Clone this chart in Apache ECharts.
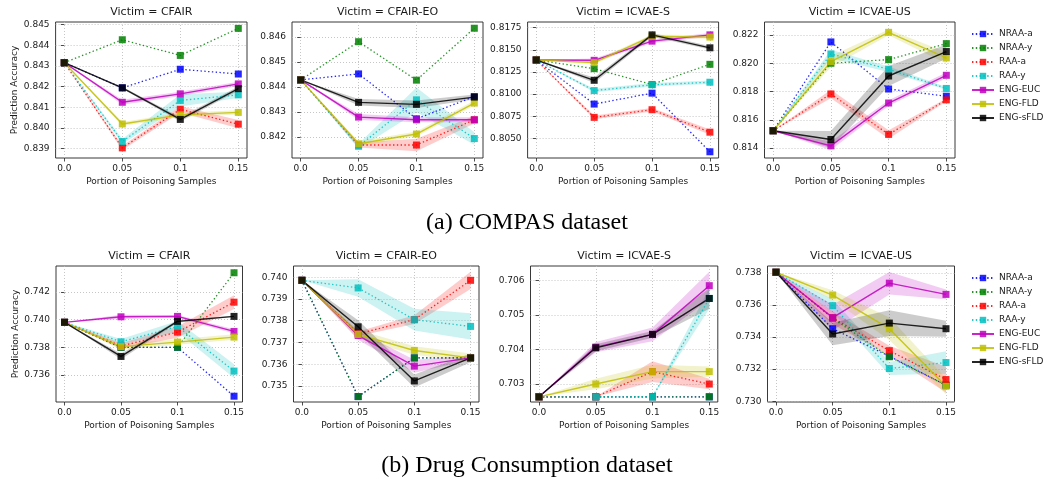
<!DOCTYPE html>
<html><head><meta charset="utf-8">
<script src="https://cdn.jsdelivr.net/npm/echarts@6/dist/echarts.min.js"></script>
<style>html,body{margin:0;padding:0;background:#fff}#c{width:1045px;height:482px}</style>
</head><body><div id="c"></div>
<script>
// ---------------- DATA ----------------
const seriesNames = ['NRAA-a','NRAA-y','RAA-a','RAA-y','ENG-EUC','ENG-FLD','ENG-sFLD'];
const xValues = [0, 0.05, 0.1, 0.15];
const xTickLabels = ['0.0','0.05','0.1','0.15'];
const victims = ['CFAIR','CFAIR-EO','ICVAE-S','ICVAE-US'];
const captions = ['(a) COMPAS dataset','(b) Drug Consumption dataset'];
const xLabel = 'Portion of Poisoning Samples';
const yLabel = 'Prediction Accuracy';

// rows: NRAA-a, NRAA-y, RAA-a, RAA-y, ENG-EUC, ENG-FLD, ENG-sFLD
const compasCFAIR = [
  [0.84316, 0.84194, 0.84284, 0.84261],
  [0.84316, 0.84427, 0.84351, 0.84482],
  [0.84316, 0.83903, 0.84090, 0.84018],
  [0.84316, 0.83934, 0.84133, 0.84160],
  [0.84316, 0.84124, 0.84165, 0.84213],
  [0.84316, 0.84019, 0.84063, 0.84075],
  [0.84316, 0.84194, 0.84041, 0.84190]
];
const compasCFAIRBand = [
  [0,0,0,0],[0,0,0,0],
  [0,0.0001,0.00015,0.0002],
  [0,0.00012,0.0003,0.00015],
  [0,0.00012,0.0001,0.0001],
  [0,0.0001,0.0001,0.0001],
  [0,0.00005,0.0001,0.0001]
];
const compasCFAIREO = [
  [0.84428, 0.84452, 0.84272, 0.84361],
  [0.84428, 0.84581, 0.84427, 0.84635],
  [0.84428, 0.84167, 0.84167, 0.84268],
  [0.84428, 0.84162, 0.84348, 0.84193],
  [0.84428, 0.84279, 0.84268, 0.84268],
  [0.84428, 0.84172, 0.84211, 0.84335],
  [0.84428, 0.84338, 0.84330, 0.84359]
];
const compasCFAIREOBand = [
  [0,0,0,0],[0,0,0,0],
  [0,0.0001,0.00025,0.00015],
  [0,0.0001,0.0005,0.00025],
  [0,0.00012,0.0001,0.0001],
  [0,0.0001,0.0001,0.0001],
  [0,0.00013,0.00015,0.0001]
];
const compasICVAES = [
  [0.81385, 0.80888, 0.81011, 0.80350],
  [0.81385, 0.81287, 0.81109, 0.81336],
  [0.81385, 0.80738, 0.80824, 0.80571],
  [0.81385, 0.81040, 0.81105, 0.81134],
  [0.81385, 0.81381, 0.81597, 0.81668],
  [0.81385, 0.81355, 0.81653, 0.81643],
  [0.81385, 0.81156, 0.81668, 0.81522]
];
const compasICVAESBand = [
  [0,0,0,0],[0,0,0,0],
  [0,0.0002,0.0002,0.0003],
  [0,0.0002,0.0002,0.0002],
  [0,0.0002,0.0002,0.0002],
  [0,0.0002,0.0002,0.0002],
  [0,0.0003,0.0002,0.0002]
];
const compasICVAEUS = [
  [0.81523, 0.82151, 0.81818, 0.81767],
  [0.81523, 0.82000, 0.82026, 0.82139],
  [0.81523, 0.81783, 0.81497, 0.81741],
  [0.81523, 0.82066, 0.81958, 0.81822],
  [0.81523, 0.81416, 0.81719, 0.81915],
  [0.81523, 0.82012, 0.82219, 0.82038],
  [0.81523, 0.81461, 0.81910, 0.82083]
];
const compasICVAEUSBand = [
  [0,0,0,0],[0,0,0,0],
  [0,0.0003,0.0003,0.0001],
  [0,0.0003,0.0002,0.0001],
  [0,0.0003,0.0002,0.0002],
  [0,0.0004,0.0002,0.0004],
  [0,0.0006,0.0007,0.0005]
];
const drugCFAIR = [
  [0.73981, 0.73800, 0.73800, 0.73446],
  [0.73981, 0.73800, 0.73800, 0.74340],
  [0.73981, 0.73810, 0.73910, 0.74127],
  [0.73981, 0.73840, 0.73951, 0.73628],
  [0.73981, 0.74021, 0.74024, 0.73915],
  [0.73981, 0.73805, 0.73838, 0.73874],
  [0.73981, 0.73734, 0.73988, 0.74024]
];
const drugCFAIRBand = [
  [0,0,0,0],[0,0,0,0],
  [0,0.0002,0.0004,0.0005],
  [0,0.0002,0.0004,0.0005],
  [0,0.00015,0.0001,0.00015],
  [0,0.0002,0.0002,0.0002],
  [0,0.0002,0.0001,0.00005]
];
const drugCFAIREO = [
  [0.73986, 0.73451, 0.73629, 0.73629],
  [0.73986, 0.73451, 0.73629, 0.73629],
  [0.73986, 0.73740, 0.73805, 0.73986],
  [0.73986, 0.73951, 0.73805, 0.73774],
  [0.73986, 0.73732, 0.73591, 0.73629],
  [0.73986, 0.73737, 0.73663, 0.73629],
  [0.73986, 0.73772, 0.73523, 0.73629]
];
const drugCFAIREOBand = [
  [0,0,0,0],[0,0,0,0],
  [0,0.0001,0.0002,0.0004],
  [0,0.0004,0.0005,0.0006],
  [0,0.0002,0.0003,0.0001],
  [0,0.0002,0.0002,0.0002],
  [0,0.0003,0.0003,0.0002]
];
const drugICVAES = [
  [0.70263, 0.70263, 0.70263, 0.70263],
  [0.70263, 0.70263, 0.70263, 0.70263],
  [0.70263, 0.70263, 0.70336, 0.70300],
  [0.70263, 0.70263, 0.70263, 0.70548],
  [0.70263, 0.70407, 0.70444, 0.70585],
  [0.70263, 0.70300, 0.70336, 0.70336],
  [0.70263, 0.70405, 0.70444, 0.70548]
];
const drugICVAESBand = [
  [0,0,0,0],[0,0,0,0],
  [0,0,0.0003,0.00015],
  [0,0,0,0.0003],
  [0,0.00015,0.0002,0.0004],
  [0,0.00015,0.0002,0.00015],
  [0,0.0001,0.0001,0.0003]
];
const drugICVAEUS = [
  [0.73804, 0.73452, 0.73280, 0.73100],
  [0.73804, 0.73517, 0.73277, 0.73100],
  [0.73804, 0.73520, 0.73315, 0.73135],
  [0.73804, 0.73596, 0.73204, 0.73241],
  [0.73804, 0.73521, 0.73736, 0.73666],
  [0.73804, 0.73662, 0.73452, 0.73093],
  [0.73804, 0.73419, 0.73487, 0.73452]
];
const drugICVAEUSBand = [
  [0,0,0,0],[0,0,0,0],
  [0,0.0004,0.0003,0.0008],
  [0,0.0004,0.0004,0.0007],
  [0,0.0008,0.0007,0.0003],
  [0,0.0003,0.0007,0.0005],
  [0,0.0007,0.0008,0.0005]
];

// y-axis ticks and limits per panel
const yTicks = [
  [0.839,0.840,0.841,0.842,0.843,0.844,0.845],
  [0.842,0.843,0.844,0.845,0.846],
  [0.8050,0.8075,0.8100,0.8125,0.8150,0.8175],
  [0.814,0.816,0.818,0.820,0.822],
  [0.736,0.738,0.740,0.742],
  [0.735,0.736,0.737,0.738,0.739,0.740],
  [0.703,0.704,0.705,0.706],
  [0.730,0.732,0.734,0.736,0.738]
];
const yDecimals = [3,3,4,3,3,3,3,3];
const yLimits = [
  [0.83854,0.84513],[0.84115,0.84660],[0.80280,0.81813],[0.81330,0.82292],
  [0.73404,0.74389],[0.73426,0.74052],[0.70248,0.70642],[0.72995,0.73843]
];

// ---------------- BUILD ----------------
const panels = [compasCFAIR, compasCFAIREO, compasICVAES, compasICVAEUS, drugCFAIR, drugCFAIREO, drugICVAES, drugICVAEUS];
const bands = [compasCFAIRBand, compasCFAIREOBand, compasICVAESBand, compasICVAEUSBand, drugCFAIRBand, drugCFAIREOBand, drugICVAESBand, drugICVAEUSBand];
const colors = ['#0000ff','#008000','#ff0000','#00bfbf','#bf00bf','#bfbf00','#000000'];
const dotted = [true,true,true,true,false,false,false];
const rects = [
  [55.6,22,191.4,136],[292,22,191,136],[527.6,22,191,136],[764.5,22,190.5,136],
  [56,266,186.5,136],[293.5,266,185.5,136],[530.5,266,187.3,136],[767.5,266,187,136]
];
const FONT = 'DejaVu Sans';
const TXT = '#1a1a1a';

const grid = [], xAxis = [], yAxis = [], series = [], graphic = [];
rects.forEach((r, gi) => {
  grid.push({left:r[0], top:r[1], width:r[2], height:r[3], show:true, borderColor:'#222', borderWidth:0.9,
    backgroundColor:'rgba(0,0,0,0)', containLabel:false, outerBoundsMode:'none'});
  xAxis.push({type:'value', gridIndex:gi, min:-0.0075, max:0.1575,
    axisLine:{show:false},
    axisTick:{show:true, length:3.5, customValues:xValues, lineStyle:{color:'#222', width:0.8}},
    axisLabel:{customValues:xValues, fontSize:9, fontFamily:FONT, color:TXT, margin:6,
      formatter:(v)=>{let k=0; xValues.forEach((x,i)=>{if(Math.abs(x-v)<1e-6)k=i;}); return xTickLabels[k];}},
    splitLine:{show:true, lineStyle:{color:'#b8b8b8', width:0.8, type:[1,2]}},
    name:xLabel, nameLocation:'middle', nameGap:19.5,
    nameTextStyle:{fontSize:9, fontFamily:FONT, color:TXT}
  });
  const ya = {type:'value', gridIndex:gi, min:yLimits[gi][0], max:yLimits[gi][1],
    axisLine:{show:false},
    axisTick:{show:true, length:3.5, customValues:yTicks[gi], lineStyle:{color:'#222', width:0.8}},
    axisLabel:{customValues:yTicks[gi], fontSize:9, fontFamily:FONT, color:TXT, margin:6,
      formatter:(v)=>v.toFixed(yDecimals[gi])},
    splitLine:{show:true, lineStyle:{color:'#b8b8b8', width:0.8, type:[1,2]}}
  };
  if (gi === 0 || gi === 4) {
    ya.name = yLabel; ya.nameLocation = 'middle'; ya.nameGap = 36;
    ya.nameTextStyle = {fontSize:9, fontFamily:FONT, color:TXT};
  }
  yAxis.push(ya);

  const vals = panels[gi], bd = bands[gi];
  seriesNames.forEach((nm, si) => {
    const v = vals[si], b = bd[si];
    if (b.some(w => w > 0)) {
      series.push({type:'custom', xAxisIndex:gi, yAxisIndex:gi, silent:true, z:2,
        data:[[xValues[0], v[0]]], clip:false,
        renderItem:(params, api) => {
          const up = xValues.map((x,i)=>api.coord([x, v[i]+b[i]]));
          const lo = xValues.map((x,i)=>api.coord([x, v[i]-b[i]])).reverse();
          return {type:'polygon', shape:{points:up.concat(lo)}, style:{fill:colors[si], opacity:0.2}};
        }
      });
    }
    series.push({type:'line', name:nm, xAxisIndex:gi, yAxisIndex:gi, z:2,
      data:xValues.map((x,i)=>[x, v[i]]),
      symbol:'rect', symbolSize:7, showSymbol:true,
      lineStyle:{color:colors[si], width: dotted[si]?1.3:1.4, type: dotted[si]?[1.4,2.4]:'solid', opacity:0.85},
      itemStyle:{color:colors[si], opacity:0.85, borderWidth:0},
      emphasis:{disabled:true}, animation:false
    });
  });

  const row = gi < 4 ? 0 : 1;
  graphic.push({type:'text', x:r[0]+r[2]/2, y: row===0 ? 12.5 : 256,
    style:{text:'Victim = ' + victims[gi%4], font:'11px "DejaVu Sans"', fill:TXT, align:'center', verticalAlign:'middle'}});
});
graphic.push({type:'text', x:527, y:223, style:{text:captions[0], font:'24px "Liberation Serif"', fill:'#000', align:'center', verticalAlign:'middle'}});
graphic.push({type:'text', x:527, y:466, style:{text:captions[1], font:'24px "Liberation Serif"', fill:'#000', align:'center', verticalAlign:'middle'}});

const legendBase = {orient:'vertical', left:971, padding:0, itemWidth:22, itemHeight:8, itemGap:3,
  data:seriesNames, selectedMode:false,
  textStyle:{fontSize:9, fontFamily:FONT, color:TXT, lineHeight:11}};
const legend = [Object.assign({}, legendBase, {top:28.5}), Object.assign({}, legendBase, {top:272.5})];

const chart = echarts.init(document.getElementById('c'), null, {renderer:'canvas'});
chart.setOption({animation:false, backgroundColor:'#fff', grid, xAxis, yAxis, series, graphic, legend});
</script>
</body></html>
